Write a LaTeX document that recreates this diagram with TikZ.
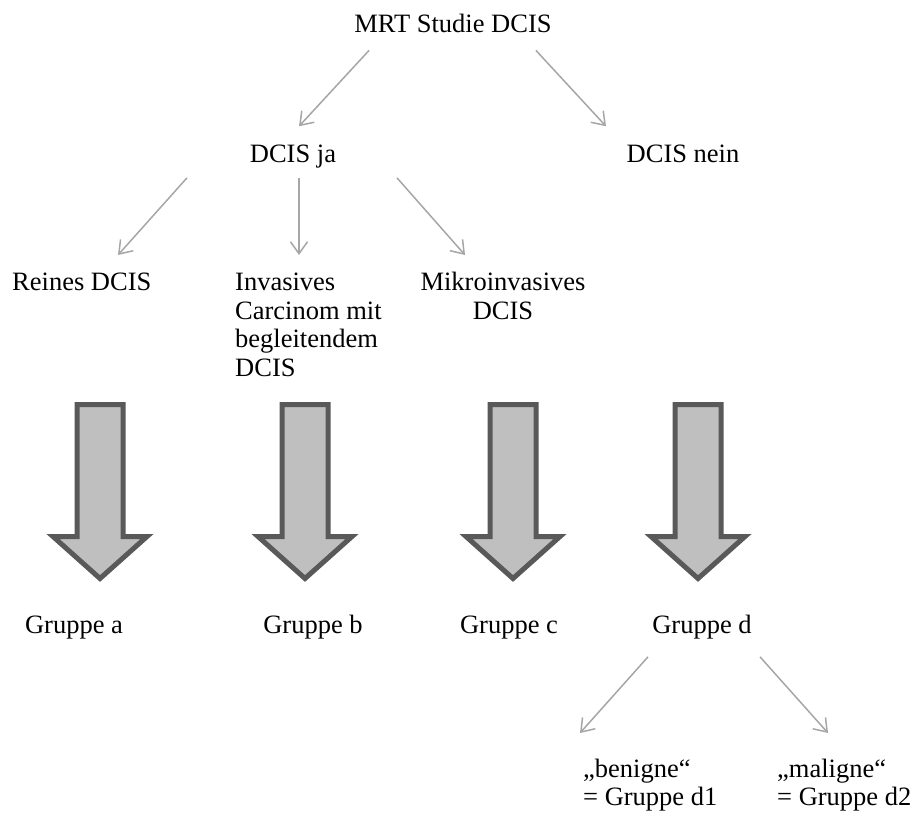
\documentclass[tikz,border=0pt]{standalone}
\usepackage{fontspec}
\setmainfont{Liberation Serif}
\usetikzlibrary{arrows.meta}
\definecolor{dcLine}{HTML}{A6A6A6}
\definecolor{dcFill}{HTML}{BFBFBF}
\definecolor{dcEdge}{HTML}{595959}
\tikzset{
  lbl/.style      ={inner sep=0pt,font=\fontsize{26.5}{28.8}\selectfont,text=black},
  mlbl/.style     ={lbl,align=left},
  clbl/.style     ={lbl,align=center},
  flow/.style     ={-{Straight Barb[length=12pt,width=17pt]},dcLine,line width=1.5pt},
  blockarr/.style ={draw=dcEdge,fill=dcFill,line width=5pt,line join=miter},
}
\begin{document}
\begin{tikzpicture}[x=1pt,y=-1pt]
\useasboundingbox (0,0) rectangle (915,812);

\node[lbl,anchor=base] (mrt) at (453,32) {MRT Studie DCIS};
\node[lbl,anchor=base] (ja) at (293,162.5) {DCIS ja};
\node[lbl,anchor=base] (nein) at (683,162.5) {DCIS nein};

\node[lbl,anchor=north west] (reines) at (12,272.5) {Reines DCIS};
\node[mlbl,anchor=north west] (inv) at (235,272.5)
  {Invasives\\Carcinom mit\\begleitendem\\DCIS};
\node[clbl,anchor=north] (mikro) at (503,272) {Mikroinvasives\\DCIS};

\draw[flow] ([shift={(-84,18)}]mrt.south) -- ([shift={(6,-18.5)}]ja.north);
\draw[flow] ([shift={(83,18)}]mrt.south) -- ([shift={(-77,-18.5)}]nein.north);
\draw[flow] ([shift={(-106,9.5)}]ja.south) -- ([shift={(106,-17.5)}]reines.north west);
\draw[flow] ([shift={(6,9.5)}]ja.south) -- ([shift={(64,-17.5)}]inv.north west);
\draw[flow] ([shift={(104,9.5)}]ja.south) -- ([shift={(-38,-17)}]mikro.north);

% block arrows to the groups
\foreach \cx in {100,305,513,698}
  \draw[blockarr] (\cx-23,404.5) -- (\cx+23,404.5) -- (\cx+23,536.5) -- (\cx+47,536.5)
    -- (\cx,578.5) -- (\cx-47,536.5) -- (\cx-23,536.5) -- cycle;

\node[lbl,anchor=base] (ga) at (74,633) {Gruppe a};
\node[lbl,anchor=base] (gb) at (313,633) {Gruppe b};
\node[lbl,anchor=base] (gc) at (509,633) {Gruppe c};
\node[lbl,anchor=base] (gd) at (702,633) {Gruppe d};

\node[mlbl,anchor=north west] (ben) at (583,758.5) {„benigne“\\= Gruppe d1};
\node[mlbl,anchor=north west] (mal) at (777,758.5) {„maligne“\\= Gruppe d2};

\draw[flow] ([shift={(-54,18)}]gd.south) -- ([shift={(-3,-25.5)}]ben.north west);
\draw[flow] ([shift={(58,18)}]gd.south) -- ([shift={(51,-25.5)}]mal.north west);
\end{tikzpicture}
\end{document}
